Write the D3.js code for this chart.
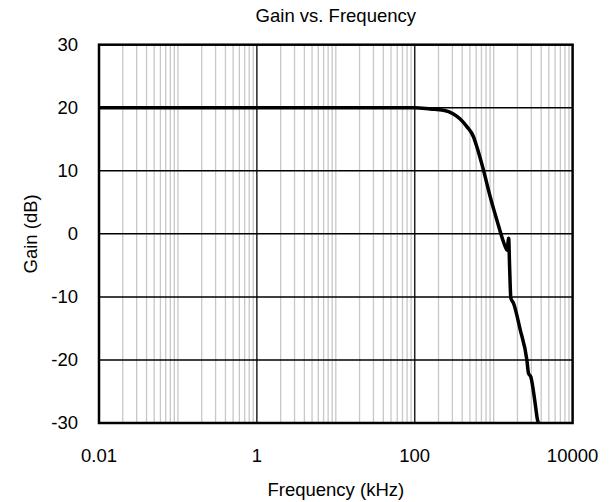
<!DOCTYPE html>
<html>
<head>
<meta charset="utf-8">
<script src="https://cdn.jsdelivr.net/npm/d3@7"></script>
<style>
  body { margin: 0; background: #fff; }
  text { font-family: Arial, "Liberation Sans", sans-serif; fill: #000; }
</style>
</head>
<body>
<div id="chart"></div>
<script>
var width = 615, height = 502;
var margin = {top: 44.7, right: 42.4, bottom: 79, left: 99};

// frequency (kHz) and gain (dB)
var freqKHz = [0.01, 0.1, 1, 10, 100, 157, 231, 309, 376, 457, 555, 612, 743, 903, 1097,
               1400, 1480, 1549, 1590, 1651, 1783, 2167, 2635, 2762, 2960, 3356, 3592, 3697];
var gainDb  = [20, 20, 20, 20, 20, 19.8, 19.6, 19.0, 18.2, 17.0, 15.4, 13.8, 10.1, 5.9, 2.2,
               -2.0, -2.6, -0.7, -5.0, -10.2, -11.0, -15.2, -20.0, -22.1, -22.7, -26.9, -29.5, -30];

var xTicks = [0.01, 1, 100, 10000];
var yTicks = [-30, -20, -10, 0, 10, 20, 30];

var svg = d3.select('#chart').append('svg')
    .attr('width', width)
    .attr('height', height);

var x = d3.scaleLog().domain([0.01, 10000]).range([margin.left, width - margin.right]);
var y = d3.scaleLinear().domain([-30, 30]).range([height - margin.bottom, margin.top]);

// minor / unlabeled log gridlines
var minor = [];
for (var e = -2; e < 4; e++) {
    for (var m = 1; m < 10; m++) {
        var v = m * Math.pow(10, e);
        if (v > 0.01 && xTicks.indexOf(+v.toPrecision(6)) < 0) minor.push(v);
    }
}
svg.append('g').selectAll('line').data(minor).join('line')
    .attr('x1', d => x(d)).attr('x2', d => x(d))
    .attr('y1', margin.top).attr('y2', height - margin.bottom)
    .attr('stroke', '#c8c8c8').attr('stroke-width', 1.3);

// labeled decade gridlines
svg.append('g').selectAll('line').data(xTicks.slice(1, -1)).join('line')
    .attr('x1', d => x(d)).attr('x2', d => x(d))
    .attr('y1', margin.top).attr('y2', height - margin.bottom)
    .attr('stroke', '#222').attr('stroke-width', 1.5);

svg.append('g').selectAll('line').data(yTicks.slice(1, -1)).join('line')
    .attr('x1', margin.left).attr('x2', width - margin.right)
    .attr('y1', d => y(d)).attr('y2', d => y(d))
    .attr('stroke', '#000').attr('stroke-width', 1.5);

// curve
var line = d3.line()
    .x((d, i) => x(freqKHz[i]))
    .y(d => y(d))
    .curve(d3.curveMonotoneX);
svg.append('path')
    .attr('d', line(gainDb))
    .attr('fill', 'none')
    .attr('stroke', '#000')
    .attr('stroke-width', 3.5)
    .attr('stroke-linejoin', 'round');

// frame
svg.append('rect')
    .attr('x', margin.left).attr('y', margin.top)
    .attr('width', width - margin.left - margin.right)
    .attr('height', height - margin.top - margin.bottom)
    .attr('fill', 'none').attr('stroke', '#000').attr('stroke-width', 2.5);

// tick labels
svg.append('g').selectAll('text').data(yTicks).join('text')
    .attr('x', margin.left - 21).attr('y', d => y(d))
    .attr('dy', '0.35em').attr('text-anchor', 'end')
    .attr('font-size', 18.5)
    .text(d => d);

svg.append('g').selectAll('text').data(xTicks).join('text')
    .attr('x', d => x(d)).attr('y', 462)
    .attr('text-anchor', 'middle')
    .attr('font-size', 18.5)
    .text(d => d);

// titles
svg.append('text').attr('x', (margin.left + width - margin.right) / 2).attr('y', 21.5)
    .attr('text-anchor', 'middle').attr('font-size', 18.5).text('Gain vs. Frequency');

svg.append('text').attr('x', (margin.left + width - margin.right) / 2).attr('y', 496)
    .attr('text-anchor', 'middle').attr('font-size', 18.5).text('Frequency (kHz)');

svg.append('text')
    .attr('transform', 'translate(37,' + ((margin.top + height - margin.bottom) / 2) + ') rotate(-90)')
    .attr('text-anchor', 'middle').attr('font-size', 18.5).text('Gain (dB)');
</script>
</body>
</html>
